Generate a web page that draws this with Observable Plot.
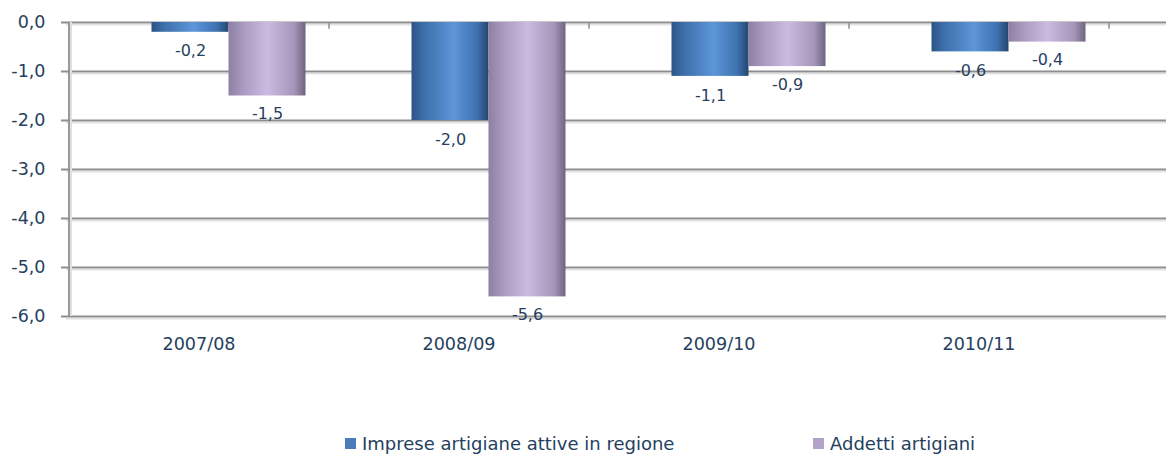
<!DOCTYPE html>
<html><head><meta charset="utf-8">
<script src="https://cdn.jsdelivr.net/npm/d3@7"></script>
<script src="https://cdn.jsdelivr.net/npm/@observablehq/plot@0.6"></script>
<style>
body{margin:0;background:#fff;font-family:"DejaVu Sans",sans-serif;}
#legend{height:56px;position:relative;font-size:18px;color:#243f60;}
.item{position:absolute;top:36px;height:15px;display:flex;align-items:center;white-space:nowrap;}
.sw{width:11px;height:11px;margin-right:6px;flex:none;}
</style></head><body>
<div id="chart"></div>
<div id="legend"></div>
<script>
const categories = ["2007/08","2008/09","2009/10","2010/11"];
const imprese = [-0.2,-2.0,-1.1,-0.6];
const addetti = [-1.5,-5.6,-0.9,-0.4];
const yTicks = [0,-1,-2,-3,-4,-5,-6];
const seriesNames = ["Imprese artigiane attive in regione","Addetti artigiani"];
const seriesColors = ["#4a7ebb","#b3a2c7"];

const fmt = d => d.toFixed(1).replace(".", ",").replace("-0,0","0,0");
const dataImp = categories.map((c,i)=>({cat:c, v:imprese[i]}));
const dataAdd = categories.map((c,i)=>({cat:c, v:addetti[i]}));
const txt = "#263f5f";

const plot = Plot.plot({
  width:1166, height:400,
  marginLeft:68, marginRight:57, marginTop:22, marginBottom:84,
  style:{fontFamily:"DejaVu Sans", fontSize:"16px", color:txt, background:"#fff"},
  x:{domain:categories, paddingInner:0.7038, paddingOuter:0.3519, axis:null},
  y:{domain:[-6,0], axis:null},
  marks:[
    Plot.ruleY(yTicks,{stroke:"#e2e2e2", strokeWidth:1.5, dy:2.2, insetLeft:-2, insetRight:-57}),
    Plot.ruleY(yTicks,{stroke:"#8e8e8e", strokeWidth:1.8, insetLeft:-7, insetRight:-57}),
    Plot.ruleX([categories[0]],{dx:-128, y1:0, y2:-6, stroke:"#e0e0e0", strokeWidth:2}),
    Plot.ruleX([categories[0]],{dx:-130, y1:0, y2:-6, stroke:"#8e8e8e", strokeWidth:1.8}),
    Plot.ruleX(categories,{dx:130, y1:0, y2:-0.14, stroke:"#8e8e8e", strokeWidth:1.5}),
    Plot.barY(dataImp,{x:"cat", y:"v", fill:"url(#gBlue)", dx:-8.5}),
    Plot.barY(dataAdd,{x:"cat", y:"v", fill:"url(#gPurple)", dx:68.5}),
    Plot.text(dataImp,{x:"cat", y:"v", text:d=>fmt(d.v), dx:-8.5, dy:19, fill:txt, fontSize:16}),
    Plot.text(dataAdd,{x:"cat", y:"v", text:d=>fmt(d.v), dx:68.5, dy:18, fill:txt, fontSize:16}),
    Plot.axisY(yTicks,{tickSize:0, tickPadding:23, tickFormat:fmt, fontSize:17.5, fill:txt, label:null}),
    Plot.axisX({tickSize:0, tickPadding:21, fontSize:17.6, fill:txt, label:null})
  ]
});
const ns = "http://www.w3.org/2000/svg";
const defs = document.createElementNS(ns,"defs");
defs.innerHTML = `
<linearGradient id="gBlue" x1="0" x2="1" y1="0" y2="0">
 <stop offset="0" stop-color="#2a5487"/>
 <stop offset="0.15" stop-color="#3c6ea9"/>
 <stop offset="0.55" stop-color="#5d96da"/>
 <stop offset="0.85" stop-color="#3f72b0"/>
 <stop offset="1" stop-color="#24466f"/>
</linearGradient>
<linearGradient id="gPurple" x1="0" x2="1" y1="0" y2="0">
 <stop offset="0" stop-color="#8e7fa3"/>
 <stop offset="0.2" stop-color="#ab9bc2"/>
 <stop offset="0.5" stop-color="#cbbbe3"/>
 <stop offset="0.85" stop-color="#a596b9"/>
 <stop offset="1" stop-color="#6f6480"/>
</linearGradient>`;
plot.insertBefore(defs, plot.firstChild);
document.getElementById("chart").appendChild(plot);

const leg = document.getElementById("legend");
const lx = [345, 813];
seriesNames.forEach((n,i)=>{
  const it = document.createElement("div");
  it.className="item"; it.style.left = lx[i]+"px";
  it.innerHTML = `<span class="sw" style="background:${seriesColors[i]}"></span><span>${n}</span>`;
  leg.appendChild(it);
});
</script>
</body></html>
